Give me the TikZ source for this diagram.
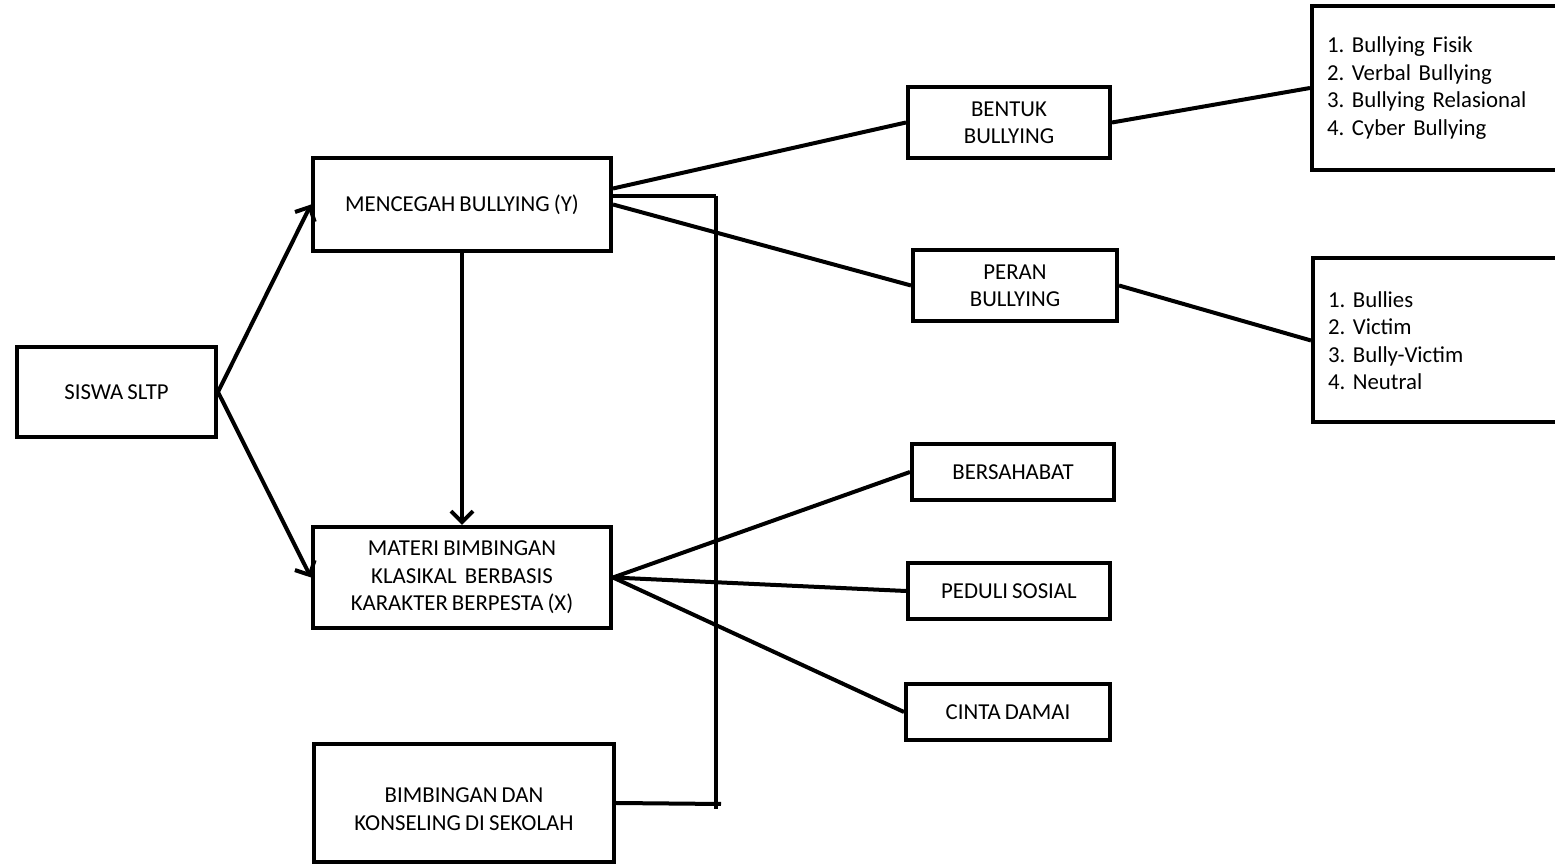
\documentclass[tikz,border=0pt]{standalone}
\usepackage{fontspec}
\setmainfont[WordSpace=0.8]{Carlito}
\frenchspacing
\usetikzlibrary{arrows.meta}

\begin{document}
\begin{tikzpicture}[x=0.5pt,y=-0.5pt,
        kotak/.style={draw,line width=2pt,align=center,inner sep=0pt,
            font=\fontsize{11.4}{13.7}\selectfont},
        daftar/.style={kotak,anchor=west,align=left,text width=135pt,
            inner xsep=7.5pt,minimum height=82pt},
        garis/.style={line width=2pt},
        panah/.style={garis,-{Straight Barb[length=5.5pt,width=11pt]}}]
        \useasboundingbox (0,0) rectangle (1555,865);
        \clip (0,0) rectangle (1555,865);
        \node[kotak,minimum width=99.5pt,minimum height=45pt] (siswa) at (116.5,392) {SISWA SLTP};
        \node[kotak,minimum width=149pt,minimum height=46.5pt] (mencegah) at (462,204.5) {MENCEGAH BULLYING (Y)};
        \node[kotak,minimum width=149pt,minimum height=50.5pt] (materi) at (462,577.5) {MATERI BIMBINGAN\\KLASIKAL\ \ BERBASIS\\KARAKTER BERPESTA (X)};
        \node[kotak,minimum width=150pt,minimum height=59pt] (bk) at (464,803) {\raisebox{0pt}[\dimexpr\height+8pt\relax]{\begin{tabular}{@{}c@{}}BIMBINGAN DAN\\KONSELING DI SEKOLAH\end{tabular}}};
        \node[kotak,minimum width=101pt,minimum height=35.5pt] (bentuk) at (1009,122.5) {BENTUK\\BULLYING};
        \node[kotak,minimum width=102pt,minimum height=35.5pt] (peran) at (1015,285.5) {PERAN\\BULLYING};
        \node[daftar] (jenis) at (1310,88) {1. Bullying Fisik\\2. Verbal Bullying\\3. Bullying Relasional\\4. Cyber Bullying};
        \node[daftar] (pelaku) at (1311,340.5) {1. Bullies\\2. Victim\\3. Bully-Victim\\4. Neutral};
        \node[kotak,minimum width=101pt,minimum height=28pt] (sahabat) at (1013,472) {BERSAHABAT};
        \node[kotak,minimum width=101pt,minimum height=28pt] (peduli) at (1009,591) {PEDULI SOSIAL};
        \node[kotak,minimum width=102pt,minimum height=28pt] (damai) at (1008,712) {CINTA DAMAI};
        \coordinate (atas) at (716,196);
        \coordinate (bawah) at (716,809);
        \coordinate (kanan) at (721,804);

        \draw[panah] (siswa.east) -- (mencegah.west);
        \draw[panah] (siswa.east) -- (materi.west);
        \draw[panah] (mencegah.south) -- (materi.north);
        \draw[garis] ([yshift=8pt]mencegah.east) -- (bentuk.west);
        \draw[garis] ([yshift=4.25pt]mencegah.east) -- (atas);
        \draw[garis] (mencegah.east) -- (peran.west);
        \draw[garis] (atas) -- (bawah);
        \draw[garis] (bk.east) -- (kanan);
        \draw[garis] (bentuk.east) -- (jenis.west);
        \draw[garis] (peran.east) -- (pelaku.west);
        \draw[garis] (materi.east) -- (sahabat.west);
        \draw[garis] (materi.east) -- (peduli.west);
        \draw[garis] (materi.east) -- (damai.west);
    \end{tikzpicture}
\end{document}
